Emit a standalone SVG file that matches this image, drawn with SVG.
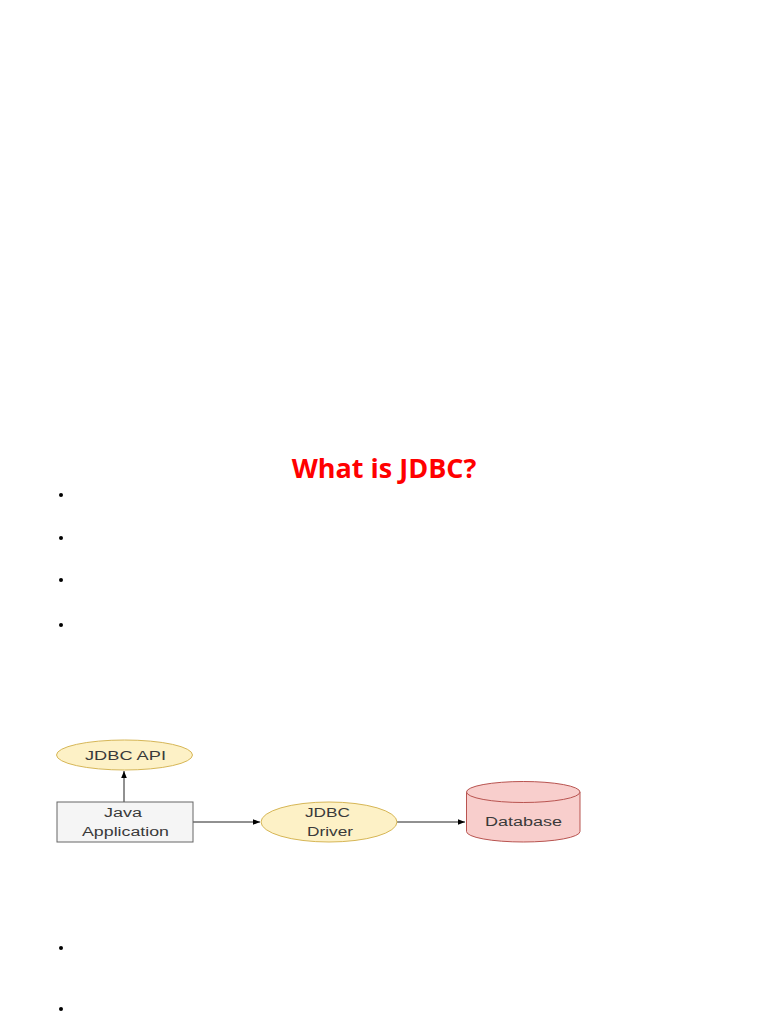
<svg xmlns="http://www.w3.org/2000/svg" width="768" height="1024" viewBox="0 0 768 1024">
<style>
.lbl{font-family:"Liberation Sans",Arial,sans-serif;font-size:12px;fill:#3a3a3a;text-anchor:middle}
.edge{stroke:#222;stroke-width:1;fill:none}
.bul{fill:#000}
</style>
<defs>
<marker id="ah" viewBox="0 0 10 10" refX="10" refY="5" markerWidth="7" markerHeight="7" orient="auto" markerUnits="userSpaceOnUse">
<path d="M0,1 L10,5 L0,9 Z" fill="#000"/>
</marker>
</defs>
<rect width="768" height="1024" fill="#fff"/>
<text x="384" y="478" text-anchor="middle" font-family="'Open Sans','Liberation Sans',sans-serif" font-weight="bold" font-size="27" fill="#ff0000">What is JDBC?</text>
<g id="bullets">
<circle class="bul" cx="61" cy="495" r="2"/>
<circle class="bul" cx="61" cy="538" r="2"/>
<circle class="bul" cx="61" cy="580" r="2"/>
<circle class="bul" cx="61" cy="625" r="2"/>
<circle class="bul" cx="61" cy="948" r="2"/>
<circle class="bul" cx="61" cy="1009" r="2"/>
</g>
<g id="connectors">
<line class="edge" x1="124" y1="802" x2="124" y2="771" marker-end="url(#ah)"/>
<line class="edge" x1="193" y1="822" x2="260" y2="822" marker-end="url(#ah)"/>
<line class="edge" x1="397" y1="822" x2="465" y2="822" marker-end="url(#ah)"/>
</g>
<g id="jdbc-api">
<ellipse cx="124.5" cy="755" rx="68" ry="15" fill="#fdf1c6" stroke="#d6b656"/>
<text class="lbl" x="125.5" y="759.5" textLength="81" lengthAdjust="spacingAndGlyphs">JDBC API</text>
</g>
<g id="java-app">
<rect x="57" y="802" width="136" height="40" fill="#f5f5f5" stroke="#666"/>
<text class="lbl" x="123" y="817" textLength="38" lengthAdjust="spacingAndGlyphs">Java</text>
<text class="lbl" x="125.5" y="835.5" textLength="87" lengthAdjust="spacingAndGlyphs">Application</text>
</g>
<g id="jdbc-driver">
<ellipse cx="329" cy="822" rx="68" ry="20" fill="#fdf1c6" stroke="#d6b656"/>
<text class="lbl" x="327.5" y="817" textLength="45" lengthAdjust="spacingAndGlyphs">JDBC</text>
<text class="lbl" x="330" y="835.5" textLength="46" lengthAdjust="spacingAndGlyphs">Driver</text>
</g>
<g id="database">
<path d="M466.5,792 L466.5,831.5 A56.75,10.5 0 0 0 580,831.5 L580,792" fill="#f8cecc" stroke="#b85450"/>
<ellipse cx="523.25" cy="792" rx="56.75" ry="10.5" fill="#f8cecc" stroke="#b85450"/>
<text class="lbl" x="523.5" y="826" textLength="77" lengthAdjust="spacingAndGlyphs">Database</text>
</g>
</svg>
